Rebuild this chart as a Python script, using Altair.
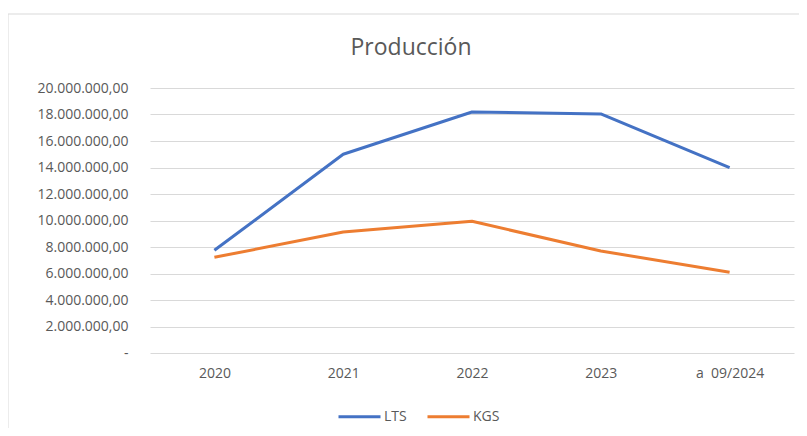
import altair as alt
import pandas as pd

years = ["2020", "2021", "2022", "2023", "a \u00a009/2024"]
lts = [7750000, 15000000, 18190000, 18040000, 13990000]
kgs = [7220000, 9130000, 9940000, 7700000, 6090000]
series_names = ["LTS", "KGS"]
series_colors = ["#4472C4", "#ED7D31"]
y_ticks = list(range(0, 20000001, 2000000))

rows = []
for name, vals in zip(series_names, [lts, kgs]):
    for i, (yr, v) in enumerate(zip(years, vals)):
        rows.append({"Año": yr, "Serie": name, "Valor": v, "orden": i})
df = pd.DataFrame(rows)

FONT = "Open Sans"
GRAY = "#595959"

label_expr = ("datum.value == 0 ? '-\u00a0\u00a0\u00a0' : "
              "replace(format(datum.value, ','), regexp(',', 'g'), '.') + ',00'")

frame = alt.Chart(pd.DataFrame({"a": [0]})).mark_rect(
    fill=None, stroke="#d9d9d9", strokeWidth=1, clip=False
).encode(
    x=alt.value(-142), x2=alt.value(665),
    y=alt.value(-74), y2=alt.value(360),
)

lines = alt.Chart(df).mark_line(strokeWidth=3, strokeJoin="round", strokeCap="butt").encode(
    x=alt.X("Año:N", sort=years,
            scale=alt.Scale(type="point", padding=0.5),
            axis=alt.Axis(title=None, labelAngle=0, ticks=False, domain=False,
                          grid=False, labelPadding=13, labelFontSize=14,
                          labelColor=GRAY, labelFont=FONT)),
    y=alt.Y("Valor:Q", scale=alt.Scale(domain=[0, 20000000], nice=False),
            axis=alt.Axis(title=None, values=y_ticks, labelExpr=label_expr,
                          ticks=False, domain=False, labelPadding=22,
                          labelFontSize=14, labelColor=GRAY, labelFont=FONT,
                          gridColor="#d9d9d9", gridWidth=1)),
    color=alt.Color("Serie:N",
                    scale=alt.Scale(domain=series_names, range=series_colors),
                    legend=alt.Legend(title=None, orient="none", direction="horizontal",
                                      legendX=187, legendY=306,
                                      symbolType="stroke", symbolSize=1764,
                                      symbolStrokeWidth=3, labelFontSize=14,
                                      labelColor=GRAY, labelFont=FONT,
                                      labelOffset=2, columnPadding=14)),
    detail="Serie:N",
    order="orden:Q",
)

chart = alt.layer(frame, lines).properties(
    width=644,
    height=265,
    title=alt.TitleParams("Producción", anchor="middle", frame="group", dx=-61,
                          dy=72, offset=26, fontSize=23, font=FONT,
                          fontWeight="normal", color=GRAY),
    autosize=alt.AutoSizeParams(type="none"),
    padding={"left": 142, "top": 80, "right": 5, "bottom": 75},
).configure_view(stroke=None)

chart.save("out.html", embed_options={"renderer": "svg", "actions": False})
